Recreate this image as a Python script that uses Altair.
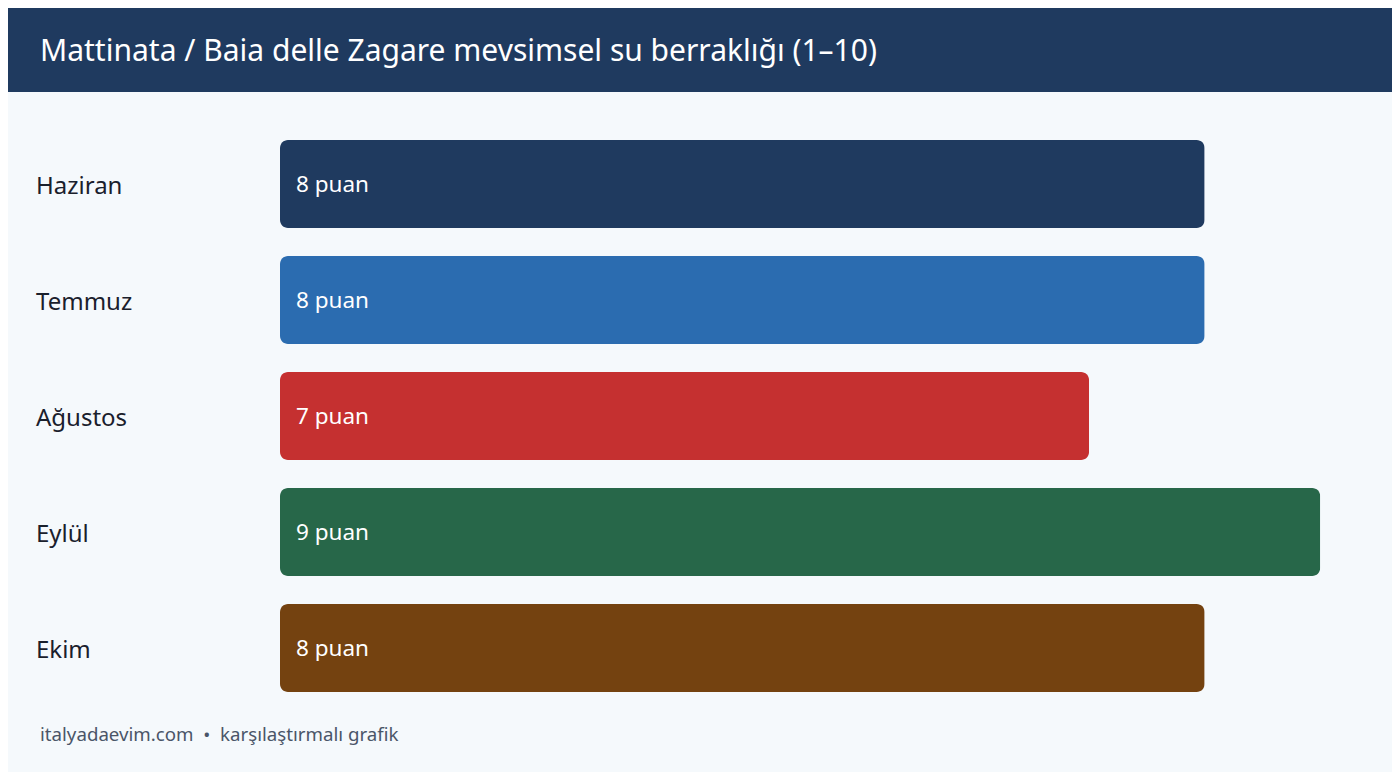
import altair as alt
import pandas as pd

months = ["Haziran", "Temmuz", "Ağustos", "Eylül", "Ekim"]
scores = [8, 8, 7, 9, 8]
colors = ["#1f3a5f", "#2b6cb0", "#c53030", "#276749", "#744210"]
title_text = "Mattinata / Baia delle Zagare mevsimsel su berraklığı (1–10)"
footer_text = "italyadaevim.com \u00a0•\u00a0 karşılaştırmalı grafik"
unit = "puan"

FONT = "Noto Sans"
BG = "#f5f9fc"
HEADER = "#1f3a5f"

df = pd.DataFrame({"month": months, "score": scores})
one = pd.DataFrame({"t": [title_text]})
foot = pd.DataFrame({"t": [footer_text]})

W, H = 1098, 580
LEFT, TOP = 272, 118
TOTAL_W, TOTAL_H = 1384, 764

yenc = alt.Y("month:N", sort=months, axis=None,
             scale=alt.Scale(paddingInner=0.2414, paddingOuter=0.1207))

bg = alt.Chart(one).mark_rect(fill=BG).encode(
    x=alt.value(-LEFT), x2=alt.value(TOTAL_W - LEFT),
    y=alt.value(-TOP), y2=alt.value(TOTAL_H - TOP))

header = alt.Chart(one).mark_rect(fill=HEADER).encode(
    x=alt.value(-LEFT), x2=alt.value(TOTAL_W - LEFT),
    y=alt.value(-TOP), y2=alt.value(84 - TOP))

title = alt.Chart(one).mark_text(
    align="left", baseline="middle", font=FONT, fontSize=30, color="white"
).encode(x=alt.value(32 - LEFT), y=alt.value(44 - TOP), text="t:N")

bars = alt.Chart(df).mark_bar(cornerRadius=8).encode(
    x=alt.X("score:Q", scale=alt.Scale(domain=[0, 9.5], nice=False, zero=True), axis=None),
    y=yenc,
    color=alt.Color("month:N", scale=alt.Scale(domain=months, range=colors), legend=None),
)

month_labels = alt.Chart(df).mark_text(
    align="left", baseline="middle", font=FONT, fontSize=24, color="#1a202c", dy=3
).encode(x=alt.value(28 - LEFT), y=yenc, text="month:N")

value_labels = alt.Chart(df).transform_calculate(
    lbl="datum.score + ' " + unit + "'"
).mark_text(
    align="left", baseline="middle", font=FONT, fontSize=22.5, color="white", dy=1
).encode(x=alt.value(16), y=yenc, text="lbl:N")

footer = alt.Chart(foot).mark_text(
    align="left", baseline="middle", font=FONT, fontSize=18.7, color="#4a5568"
).encode(x=alt.value(32 - LEFT), y=alt.value(727 - TOP), text="t:N")

chart = alt.layer(bg, header, title, bars, month_labels, value_labels, footer).properties(
    width=W, height=H, padding=0, background=BG
).configure_view(stroke=None)

chart.save("out.html", embed_options={"renderer": "svg", "actions": False})
